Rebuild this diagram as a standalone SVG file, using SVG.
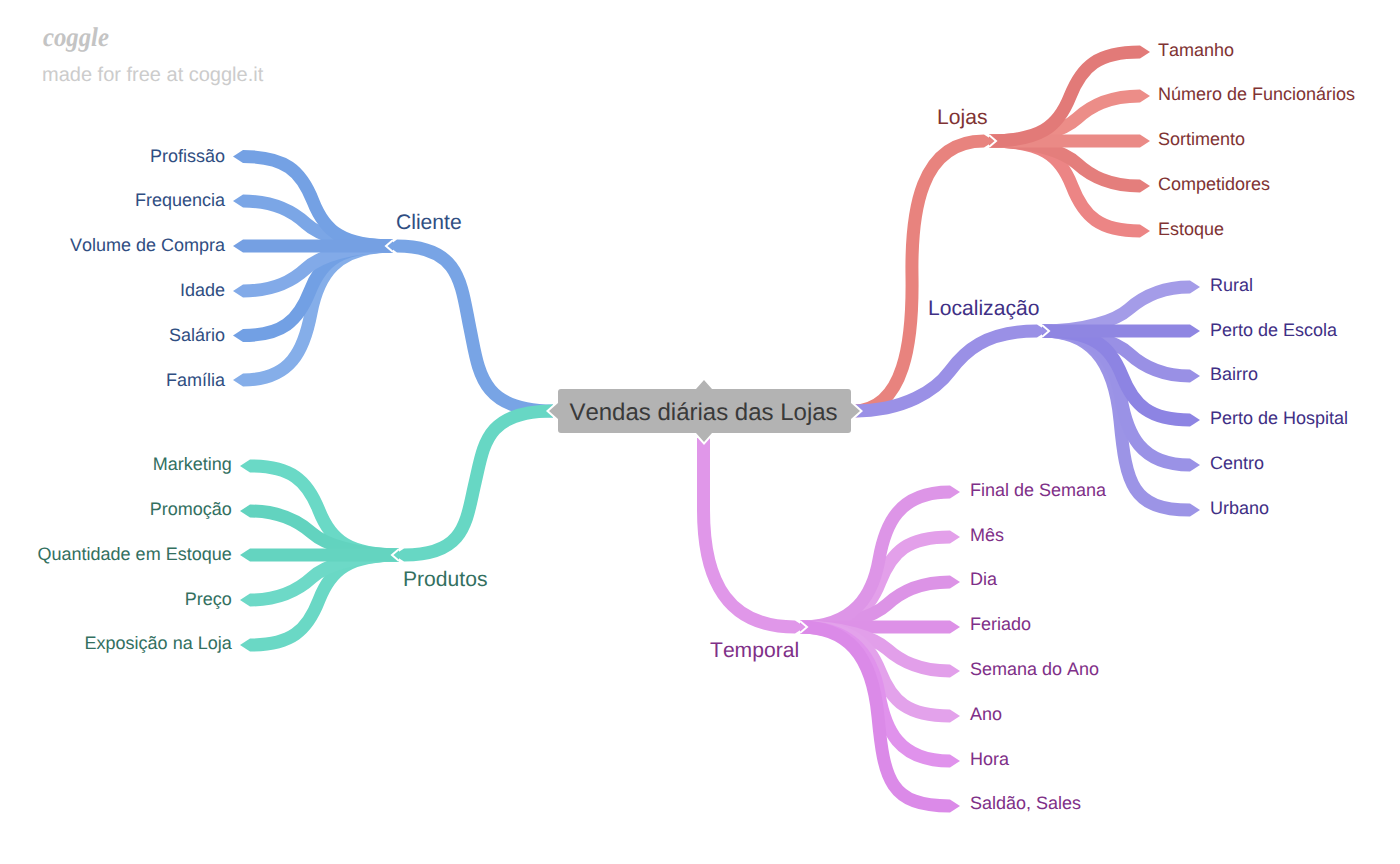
<svg xmlns="http://www.w3.org/2000/svg" width="1400" height="864" viewBox="0 0 1400 864">
<style>
text{font-family:"Liberation Sans",Arial,sans-serif;text-rendering:geometricPrecision;font-kerning:none}
.l{font-size:18px}
.b{font-size:21.1px}
.e{text-anchor:end}
path.w{fill:none;stroke-width:13}
.chev{fill:none;stroke:#fff;stroke-width:2}
.tb{fill:#304e82}.tt{fill:#33705f}.tr{fill:#803333}.tp{fill:#3f3085}.tm{fill:#7f3088}
</style>
<rect width="1400" height="864" fill="#fff"/>
<g id="watermark">
<text x="43" y="46" font-size="27" font-weight="700" font-style="italic" fill="#c4c4c4" style="font-family:'Liberation Serif',serif" textLength="66" lengthAdjust="spacingAndGlyphs">coggle</text>
<text x="42" y="81" font-size="20" fill="#cccccc">made for free at coggle.it</text>
</g>
<g id="connectors">
<!-- Cliente leaves -->
<path class="w" stroke="#85aee9" d="M393,246C335,246 318,276 311,313S291,380 243,380"/><polygon fill="#85aee9" points="243,373.6 233,380 243,386.4"/>
<path class="w" stroke="#72a0e4" d="M393,246C340,246 322,260 310,290.75S282,335.5 243,335.5"/><polygon fill="#72a0e4" points="243,329.1 233,335.5 243,341.9"/>
<path class="w" stroke="#82aae8" d="M393,246C350,246 319,256.5 306,268.5S275,291 243,291"/><polygon fill="#82aae8" points="243,284.6 233,291 243,297.4"/>
<path class="w" stroke="#7ba6e6" d="M393,246C350,246 319,235.5 306,223.5S275,201 243,201"/><polygon fill="#7ba6e6" points="243,194.6 233,201 243,207.4"/>
<path class="w" stroke="#74a1e4" d="M393,246C343,246 325,232 313,201.25S285,156.5 243,156.5"/><polygon fill="#74a1e4" points="243,150.1 233,156.5 243,162.9"/>
<path class="w" stroke="#75a0e3" d="M393,246H243"/><polygon fill="#75a0e3" points="243,239.6 233,246 243,252.4"/>
<!-- Produtos leaves -->
<path class="w" stroke="#6ad9c6" d="M399,555C349,555 331,541 319,510.5S291,466 250,466"/><polygon fill="#6ad9c6" points="250,459.6 240,466 250,472.4"/>
<path class="w" stroke="#62d3bf" d="M399,555C356,555 325,544.5 312,533S281,511 250,511"/><polygon fill="#62d3bf" points="250,504.6 240,511 250,517.4"/>
<path class="w" stroke="#6ad8c5" d="M399,555C349,555 331,569 319,600S291,645 250,645"/><polygon fill="#6ad8c5" points="250,638.6 240,645 250,651.4"/>
<path class="w" stroke="#6dd9c7" d="M399,555C356,555 325,565.5 312,577.5S281,600 250,600"/><polygon fill="#6dd9c7" points="250,593.6 240,600 250,606.4"/>
<path class="w" stroke="#64d4c0" d="M399,555H250"/><polygon fill="#64d4c0" points="250,548.6 240,555 250,561.4"/>
<!-- Lojas leaves -->
<path class="w" stroke="#ec8585" d="M989,141C1042,141 1060,155 1072,186S1100,231 1140,231"/><polygon fill="#ec8585" points="1140,224.6 1150,231 1140,237.4"/>
<path class="w" stroke="#e47e7c" d="M989,141C1033,141 1064,151.5 1077,163.5S1108,186 1140,186"/><polygon fill="#e47e7c" points="1140,179.6 1150,186 1140,192.4"/>
<path class="w" stroke="#ec8d88" d="M989,141C1033,141 1064,130.5 1077,118.5S1108,96 1140,96"/><polygon fill="#ec8d88" points="1140,89.6 1150,96 1140,102.4"/>
<path class="w" stroke="#ea8a86" d="M989,141H1140"/><polygon fill="#ea8a86" points="1140,134.6 1150,141 1140,147.4"/>
<path class="w" stroke="#e27a78" d="M989,141C1040,141 1058,127 1070,96.5S1098,52 1140,52"/><polygon fill="#e27a78" points="1140,45.6 1150,52 1140,58.4"/>
<!-- Localização leaves -->
<path class="w" stroke="#a49ce8" d="M1042,331C1085,331 1116,320.5 1129,309S1160,287 1190,287"/><polygon fill="#a49ce8" points="1190,280.6 1200,287 1190,293.4"/>
<path class="w" stroke="#9c94e6" d="M1042,331C1088,331 1114,357 1120,420.5S1132,510 1190,510"/><polygon fill="#9c94e6" points="1190,503.6 1200,510 1190,516.4"/>
<path class="w" stroke="#9a92e6" d="M1042,331C1097,331 1115,362.5 1121,398S1140,465 1190,465"/><polygon fill="#9a92e6" points="1190,458.6 1200,465 1190,471.4"/>
<path class="w" stroke="#9990e5" d="M1042,331C1085,331 1116,341.5 1129,353.5S1160,376 1190,376"/><polygon fill="#9990e5" points="1190,369.6 1200,376 1190,382.4"/>
<path class="w" stroke="#8d84e3" d="M1042,331C1092,331 1110,345 1122,375.5S1150,420 1190,420"/><polygon fill="#8d84e3" points="1190,413.6 1200,420 1190,426.4"/>
<path class="w" stroke="#8f86e2" d="M1042,331H1190"/><polygon fill="#8f86e2" points="1190,324.6 1200,331 1190,337.4"/>
<!-- Temporal leaves -->
<path class="w" stroke="#e3a0ea" d="M800,627C850,627 868,613 880,582S908,537 950,537"/><polygon fill="#e3a0ea" points="950,530.6 960,537 950,543.4"/>
<path class="w" stroke="#dc93e6" d="M800,627C843,627 874,616.5 887,604.5S918,582 950,582"/><polygon fill="#dc93e6" points="950,575.6 960,582 950,588.4"/>
<path class="w" stroke="#dd95e7" d="M800,627C855,627 873,594 879,559.5S898,492 950,492"/><polygon fill="#dd95e7" points="950,485.6 960,492 950,498.4"/>
<path class="w" stroke="#dd91e7" d="M800,627H950"/><polygon fill="#dd91e7" points="950,620.6 960,627 950,633.4"/>
<path class="w" stroke="#e29fea" d="M800,627C843,627 874,637.5 887,649S918,671 950,671"/><polygon fill="#e29fea" points="950,664.6 960,671 950,677.4"/>
<path class="w" stroke="#e3a2eb" d="M800,627C850,627 868,641 880,671.5S908,716 950,716"/><polygon fill="#e3a2eb" points="950,709.6 960,716 950,722.4"/>
<path class="w" stroke="#e092ec" d="M800,627C855,627 873,659.5 879,694S898,761 950,761"/><polygon fill="#e092ec" points="950,754.6 960,761 950,767.4"/>
<path class="w" stroke="#db8ae8" d="M800,627C846,627 872,653 878,716.5S890,806 950,806"/><polygon fill="#db8ae8" points="950,799.6 960,806 950,812.4"/>
<!-- Main branches -->
<path class="w" stroke="#78a4e5" d="M553,411C480,411 479,372 470,328.5S461,246 397,246"/><polygon fill="#78a4e5" points="397,239.6 388,246 397,252.4"/><polyline class="chev" points="393,240 386,246 393,252"/>
<path class="w" stroke="#67d7c4" d="M553,411C485,411 484,445 475,483S466,555 404,555"/><polygon fill="#67d7c4" points="404,548.6 394,555 404,561.4"/><polyline class="chev" points="399,549 392,555 399,561"/>
<path class="w" stroke="#e8837e" d="M853,411C905,411 913,340 912,276S920,141 984,141"/><polygon fill="#e8837e" points="984,134.6 994,141 984,147.4"/><polyline class="chev" points="989,135 996,141 989,147"/>
<path class="w" stroke="#9a90e6" d="M853,411C905,411 936,390 950,371S985,331 1037,331"/><polygon fill="#9a90e6" points="1037,324.6 1047,331 1037,337.4"/><polyline class="chev" points="1042,325 1049,331 1042,337"/>
<path class="w" stroke="#e097e9" d="M703.5,438V510C703.5,585 730,627 795,627"/><polygon fill="#e097e9" points="795,620.6 805,627 795,633.4"/><polyline class="chev" points="800,621 807,627 800,633"/>
</g>
<g id="central">
<path d="M561,389H696L704,380L712,389H848Q851,389 851,392V403L860,411L851,419V430Q851,433 848,433H712L704,442L696,433H561Q558,433 558,430V419L549,411L558,403V392Q558,389 561,389Z" fill="#b3b3b3" stroke="#fff" stroke-width="4" paint-order="stroke"/>
<text x="703.5" y="420" font-size="24" fill="#3a3a3a" text-anchor="middle">Vendas diárias das Lojas</text>
</g>
<g id="cliente"><text x="396" y="229" class="b tb">Cliente</text></g>
<g id="profissao"><text x="225" y="162" class="l e tb">Profissão</text></g>
<g id="frequencia"><text x="225" y="206" class="l e tb">Frequencia</text></g>
<g id="volume"><text x="225" y="251" class="l e tb">Volume de Compra</text></g>
<g id="idade"><text x="225" y="296" class="l e tb">Idade</text></g>
<g id="salario"><text x="225" y="341" class="l e tb">Salário</text></g>
<g id="familia"><text x="225" y="386" class="l e tb">Família</text></g>
<g id="produtos"><text x="403" y="586" class="b tt">Produtos</text></g>
<g id="marketing"><text x="231.7" y="470" class="l e tt">Marketing</text></g>
<g id="promocao"><text x="231.7" y="515" class="l e tt">Promoção</text></g>
<g id="quantidade"><text x="231.7" y="560" class="l e tt">Quantidade em Estoque</text></g>
<g id="preco"><text x="231.7" y="605" class="l e tt">Preço</text></g>
<g id="exposicao"><text x="231.7" y="649" class="l e tt">Exposição na Loja</text></g>
<g id="lojas"><text x="937" y="124" class="b tr">Lojas</text></g>
<g id="tamanho"><text x="1158" y="56" class="l tr">Tamanho</text></g>
<g id="funcionarios"><text x="1158" y="100" class="l tr">Número de Funcionários</text></g>
<g id="sortimento"><text x="1158" y="145" class="l tr">Sortimento</text></g>
<g id="competidores"><text x="1158" y="190" class="l tr">Competidores</text></g>
<g id="estoque"><text x="1158" y="235" class="l tr">Estoque</text></g>
<g id="localizacao"><text x="928" y="315" class="b tp">Localização</text></g>
<g id="rural"><text x="1210" y="291" class="l tp">Rural</text></g>
<g id="escola"><text x="1210" y="336" class="l tp">Perto de Escola</text></g>
<g id="bairro"><text x="1210" y="380" class="l tp">Bairro</text></g>
<g id="hospital"><text x="1210" y="424" class="l tp">Perto de Hospital</text></g>
<g id="centro"><text x="1210" y="469" class="l tp">Centro</text></g>
<g id="urbano"><text x="1210" y="514" class="l tp">Urbano</text></g>
<g id="temporal"><text x="710" y="657" class="b tm">Temporal</text></g>
<g id="final"><text x="970" y="496" class="l tm">Final de Semana</text></g>
<g id="mes"><text x="970" y="541" class="l tm">Mês</text></g>
<g id="dia"><text x="970" y="585" class="l tm">Dia</text></g>
<g id="feriado"><text x="970" y="630" class="l tm">Feriado</text></g>
<g id="semana"><text x="970" y="675" class="l tm">Semana do Ano</text></g>
<g id="ano"><text x="970" y="720" class="l tm">Ano</text></g>
<g id="hora"><text x="970" y="765" class="l tm">Hora</text></g>
<g id="saldao"><text x="970" y="809" class="l tm">Saldão, Sales</text></g>
</svg>
